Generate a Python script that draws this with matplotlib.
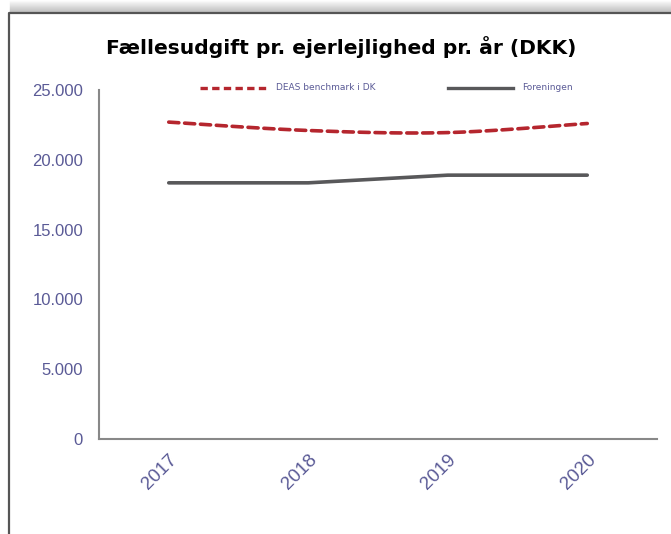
import numpy as np
import matplotlib
matplotlib.use("Agg")
import matplotlib.pyplot as plt
from matplotlib.lines import Line2D

years = ["2017", "2018", "2019", "2020"]
deas = [22700, 22100, 21950, 22600]
forening = [18350, 18350, 18900, 18900]
yticks = [0, 5000, 10000, 15000, 20000, 25000]
ytick_labels = ["0", "5.000", "10.000", "15.000", "20.000", "25.000"]

W, H = 671, 534
fig = plt.figure(figsize=(W / 100, H / 100), dpi=100)
fig.patch.set_facecolor("white")

# shadow above frame
for i in range(12):
    a = 0.03 + 0.035 * i
    fig.add_artist(Line2D([10 / W, 1], [1 - (i + 0.5) / H] * 2, transform=fig.transFigure,
                          color="#808080", alpha=min(a, 0.5), lw=1))
# frame
fig.add_artist(Line2D([8.5 / W, 8.5 / W, 1], [0, 1 - 12.5 / H, 1 - 12.5 / H],
                      transform=fig.transFigure, color="#555555", lw=1.6))

ax = fig.add_axes([99 / W, (H - 439) / H, (657 - 99) / W, (439 - 90) / H])
x = np.arange(len(years)) + 0.5


def smooth(xs, ys, n=30):
    # Excel-like smoothed line (Catmull-Rom style Bezier)
    xs = np.asarray(xs, float); ys = np.asarray(ys, float)
    px = np.concatenate([[xs[0]], xs, [xs[-1]]])
    py = np.concatenate([[ys[0]], ys, [ys[-1]]])
    outx, outy = [], []
    t = np.linspace(0, 1, n)
    for i in range(1, len(px) - 2):
        p0 = np.array([px[i - 1], py[i - 1]]); p1 = np.array([px[i], py[i]])
        p2 = np.array([px[i + 1], py[i + 1]]); p3 = np.array([px[i + 2], py[i + 2]])
        c1 = p1 + (p2 - p0) / 6
        c2 = p2 - (p3 - p1) / 6
        b = ((1 - t) ** 3)[:, None] * p1 + (3 * (1 - t) ** 2 * t)[:, None] * c1 + \
            (3 * (1 - t) * t ** 2)[:, None] * c2 + (t ** 3)[:, None] * p2
        outx.extend(b[:, 0]); outy.extend(b[:, 1])
    return outx, outy


sx, sy = smooth(x, deas)
ax.plot(sx, sy, color="#b5262e", lw=2.6, dashes=(2.8, 1.6), dash_capstyle="round",
        solid_capstyle="round")
ax.plot(x, forening, color="#58585a", lw=2.6, solid_capstyle="round")

ax.set_xlim(0, 4)
ax.set_ylim(0, 25000)
ax.set_yticks(yticks)
ax.set_yticklabels(ytick_labels, fontfamily="Liberation Sans")
ax.set_xticks(x)
ax.set_xticklabels(years, rotation=45, ha="right", rotation_mode="anchor",
                   fontfamily="Liberation Sans")
lab_col = "#5a5a96"
ax.tick_params(axis="both", length=0, labelcolor=lab_col, labelsize=12)
ax.tick_params(axis="x", labelsize=13.5)
ax.tick_params(axis="y", pad=11.5)
ax.tick_params(axis="x", pad=9)
for s in ["top", "right"]:
    ax.spines[s].set_visible(False)
for s in ["left", "bottom"]:
    ax.spines[s].set_color("#888888")
    ax.spines[s].set_linewidth(1.5)

fig.text(341 / W, 1 - 47 / H, "Fællesudgift pr. ejerlejlighed pr. år (DKK)",
         ha="center", va="center", fontsize=14.6, fontweight="bold", color="black")

# legend
ly = 1 - 88 / H
fig.add_artist(Line2D([200 / W, 270 / W], [ly, ly], transform=fig.transFigure,
                      color="#b5262e", lw=2.4, dashes=(2.2, 1.3)))
fig.text(276 / W, ly, "DEAS benchmark i DK", ha="left", va="center", fontsize=6.5, color=lab_col)
fig.add_artist(Line2D([448 / W, 513 / W], [ly, ly], transform=fig.transFigure,
                      color="#58585a", lw=2.4))
fig.text(522 / W, ly, "Foreningen", ha="left", va="center", fontsize=6.5, color=lab_col)

fig.savefig("out.png", dpi=100)
